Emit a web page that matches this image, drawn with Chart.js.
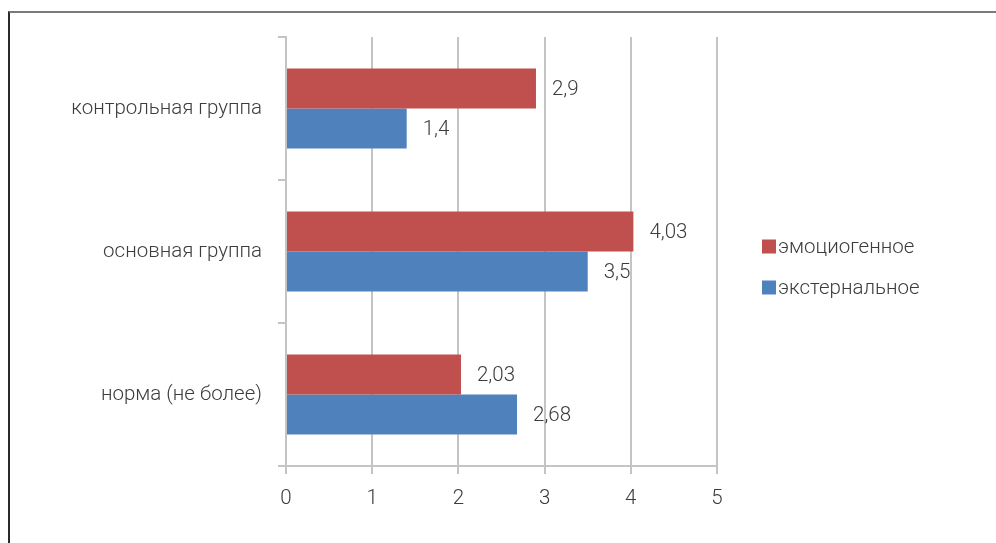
<!DOCTYPE html>
<html>
<head>
<meta charset="utf-8">
<script src="https://cdn.jsdelivr.net/npm/chart.js@4"></script>
<style>
  html, body { margin: 0; padding: 0; background: #fff; }
  body { width: 996px; height: 543px; overflow: hidden; position: relative; }
  #frame {
    position: absolute; left: 8px; top: 11px; right: -4px; bottom: -4px;
    border-top: 2px solid #7a7a7a; border-left: 2px solid #2a2a2a;
  }
  #wrap { position: absolute; left: 10px; top: 13px; width: 986px; height: 530px; }
</style>
</head>
<body>
<div id="frame"></div>
<div id="wrap"><canvas id="chart-0"></canvas></div>
<script>
const categories = ['контрольная группа', 'основная группа', 'норма (не более)']
const seriesNames = ['эмоциогенное', 'экстернальное']
const emotional = [2.9, 4.03, 2.03]
const external = [1.4, 3.5, 2.68]
const xTicks = [0, 1, 2, 3, 4, 5]

const colors = ['#c0504d', '#4f81bd']
const textColor = '#3c3c3c'
const gridColor = '#c4c4c4'
const font = { family: 'Roboto, "Liberation Sans", sans-serif', size: 20.5, weight: 300 }
const fontStr = `${font.weight} ${font.size}px ${font.family}`

// value labels right of every bar, decimal comma
const valueLabels = {
  id: 'valueLabels',
  afterDatasetsDraw(chart) {
    const ctx = chart.ctx
    ctx.save()
    ctx.font = fontStr
    ctx.fillStyle = textColor
    ctx.textAlign = 'left'
    ctx.textBaseline = 'middle'
    chart.data.datasets.forEach((ds, di) => {
      chart.getDatasetMeta(di).data.forEach((bar, i) => {
        ctx.fillText(String(ds.data[i]).replace('.', ','), bar.x + 16, bar.y + 1)
      })
    })
    ctx.restore()
  }
}

// legend to the right of the plot, small gap between swatch and text
const sideLegend = {
  id: 'sideLegend',
  afterDraw(chart) {
    const ctx = chart.ctx
    const area = chart.chartArea
    const x = area.right + 45
    const y0 = (area.top + area.bottom) / 2 - 5
    ctx.save()
    ctx.font = fontStr
    ctx.textAlign = 'left'
    ctx.textBaseline = 'middle'
    chart.data.datasets.forEach((ds, i) => {
      const y = y0 + i * 41
      ctx.fillStyle = ds.backgroundColor
      ctx.fillRect(x, y - 7, 14, 14)
      ctx.fillStyle = textColor
      ctx.fillText(ds.label, x + 16, y + 1)
    })
    ctx.restore()
  }
}

new Chart(document.getElementById('chart-0'), {
  type: 'bar',
  data: {
    labels: categories,
    datasets: [
      { label: seriesNames[0], data: emotional, backgroundColor: colors[0] },
      { label: seriesNames[1], data: external, backgroundColor: colors[1] }
    ]
  },
  options: {
    indexAxis: 'y',
    animation: false,
    responsive: true,
    maintainAspectRatio: false,
    datasets: {
      bar: { categoryPercentage: 0.56, barPercentage: 1 }
    },
    layout: { padding: { top: 24, bottom: 17, right: 279, left: 0 } },
    scales: {
      x: {
        min: 0,
        max: 5,
        afterBuildTicks(scale) { scale.ticks = xTicks.map(v => ({ value: v })) },
        afterFit(scale) { scale.height = 60 },
        grid: { color: gridColor, lineWidth: 2, tickLength: 8 },
        border: { color: gridColor, width: 2 },
        ticks: { color: textColor, font, padding: 13 }
      },
      y: {
        afterFit(scale) {
          scale.width = 276
          scale.paddingTop = 0
          scale.paddingBottom = 0
        },
        grid: { drawOnChartArea: false, color: gridColor, lineWidth: 2, tickLength: 8 },
        border: { color: gridColor, width: 2 },
        ticks: { color: textColor, font, padding: 16 }
      }
    },
    plugins: {
      legend: { display: false },
      tooltip: { enabled: false }
    }
  },
  plugins: [valueLabels, sideLegend]
})
</script>
</body>
</html>
